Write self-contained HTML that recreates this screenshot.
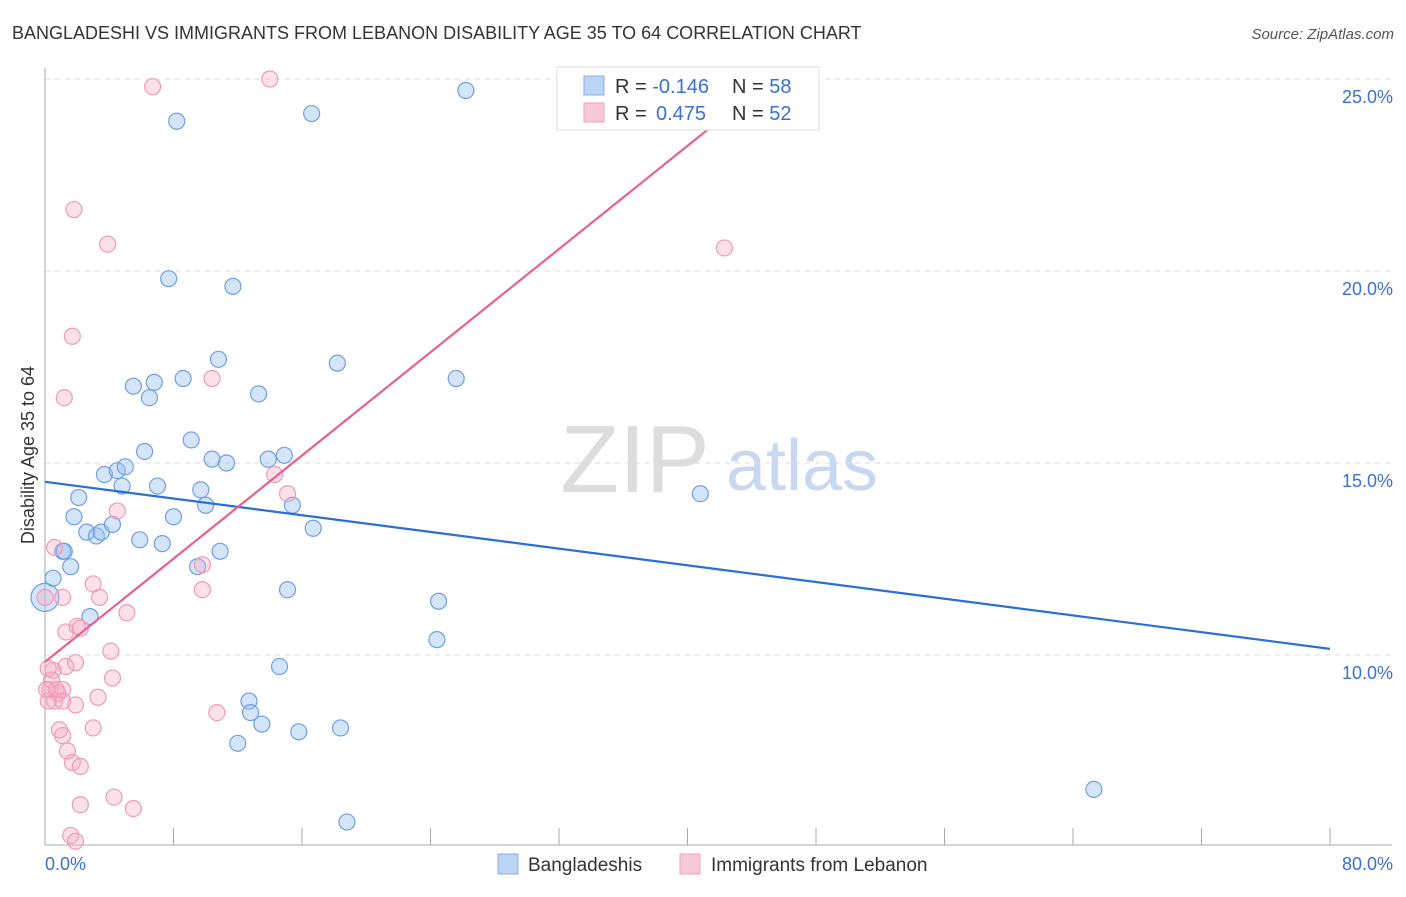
<!DOCTYPE html>
<html><head><meta charset="utf-8"><style>
body{margin:0;background:#fff;font-family:"Liberation Sans",sans-serif;}
svg text{font-family:"Liberation Sans",sans-serif;}
</style></head><body>
<svg id="chart" width="1406" height="892" xmlns="http://www.w3.org/2000/svg">
<text x="12" y="39" font-size="18" fill="#333">BANGLADESHI VS IMMIGRANTS FROM LEBANON DISABILITY AGE 35 TO 64 CORRELATION CHART</text>
<text x="1394" y="39" font-size="15" fill="#555" font-style="italic" text-anchor="end">Source: ZipAtlas.com</text>
<g>
<text x="635" y="492" font-size="96" fill="#ddd" font-family="Liberation Serif" text-anchor="middle">ZIP</text>
<text x="802" y="490" font-size="72" fill="#c8d8f0" text-anchor="middle">atlas</text>
</g>
<g id="grid"></g><g id="axes"></g><g id="pts"></g><g id="lines"></g>
<g>
<rect x="557" y="67" width="262" height="63" fill="#fff" stroke="#ddd"/>
<rect x="584" y="76" width="20" height="19" fill="#bcd4f4" stroke="#88aee6"/>
<rect x="584" y="103" width="20" height="19" fill="#f9c8d6" stroke="#f0a0bc"/>
<text x="615" y="93" font-size="20" fill="#333">R = <tspan fill="#3a70d0">-0.146</tspan></text>
<text x="732" y="93" font-size="20" fill="#333">N = <tspan fill="#3a70d0">58</tspan></text>
<text x="615" y="120" font-size="20" fill="#333">R = <tspan fill="#3a70d0" x="656">0.475</tspan></text>
<text x="732" y="120" font-size="20" fill="#333">N = <tspan fill="#3a70d0">52</tspan></text>
</g>
<g>
<rect x="498" y="854" width="20" height="20" fill="#bcd4f4" stroke="#88aee6"/>
<text x="528" y="871" font-size="19" fill="#333">Bangladeshis</text>
<rect x="680" y="854" width="20" height="20" fill="#f9c8d6" stroke="#f0a0bc"/>
<text x="711" y="871" font-size="19" fill="#333">Immigrants from Lebanon</text>
</g>
<text transform="translate(34,455) rotate(-90)" font-size="18" fill="#333" text-anchor="middle">Disability Age 35 to 64</text>
</svg>
<script>
const yTicks=[10,15,20,25];
const yTickLabels=["10.0%","15.0%","20.0%","25.0%"];
const xEnds=["0.0%","80.0%"];
const blueX=[0,0.5,1.1,1.2,1.6,2.1,1.8,2.6,3.2,3.5,4.2,2.8,3.7,4.5,5.0,4.8,5.5,6.5,6.8,6.2,7.0,5.9,7.3,8.0,8.2,7.7,8.6,9.1,9.7,10.0,10.4,11.3,10.8,11.7,10.9,9.5,13.3,13.9,14.9,15.4,16.7,15.1,16.6,18.2,14.6,12.7,12.8,13.5,15.8,12.0,18.4,18.8,24.5,24.4,25.6,26.2,40.8,65.3];
const blueY=[11.5,12.0,12.7,12.7,12.3,14.1,13.6,13.2,13.1,13.2,13.4,11.0,14.7,14.8,14.9,14.4,17.0,16.7,17.1,15.3,14.4,13.0,12.9,13.6,23.9,19.8,17.2,15.6,14.3,13.9,15.1,15.0,17.7,19.6,12.7,12.3,16.8,15.1,15.2,13.9,13.3,11.7,24.1,17.6,9.7,8.8,8.5,8.2,8.0,7.7,8.1,5.65,11.4,10.4,17.2,24.7,14.2,6.5];
const pinkX=[0,0.6,1.1,1.2,1.7,1.8,3.9,6.7,14.0,42.3,10.4,15.1,14.3,4.5,3.0,3.4,5.1,1.3,2.0,2.2,4.1,1.9,1.3,0.5,0.3,0.8,1.1,0.6,1.9,3.3,4.2,3.0,0.9,1.1,1.4,1.7,2.2,2.2,4.3,5.5,1.6,1.9,9.8,9.8,10.7,0.4,0.2,0.7,0.2,1.1,0.1];
const pinkY=[11.5,12.8,11.5,16.7,18.3,21.6,20.7,24.8,25.0,20.6,17.2,14.2,14.7,13.75,11.85,11.5,11.1,10.6,10.75,10.7,10.1,9.8,9.7,9.6,9.1,9.0,9.1,8.8,8.7,8.9,9.4,8.1,8.05,7.9,7.5,7.2,7.1,6.1,6.3,6.0,5.3,5.15,12.35,11.7,8.5,9.35,8.8,9.1,9.65,8.8,9.1];
const blueLine=[14.51,10.16];
const pinkIntercept=9.82, pinkSlope=0.336;
const sx=v=>45+v/80*1285, sy=v=>79+(25-v)*38.4;
const NS="http://www.w3.org/2000/svg";
function mk(t,a,p){const e=document.createElementNS(NS,t);for(const k in a)e.setAttribute(k,a[k]);document.getElementById(p).appendChild(e);return e;}
yTicks.forEach((t,i)=>{
 const g=mk('line',{x1:45,x2:1392,y1:sy(t),y2:sy(t),stroke:'#ddd','stroke-dasharray':'5,5'},'grid');
 
 
 const l=mk('text',{x:1393,y:sy(t)+24,'font-size':18,fill:'#3a70d0','text-anchor':'end'},'axes');
 l.textContent=yTickLabels[i];
 
 
});
const ax=mk('line',{x1:45,x2:45,y1:68,y2:845,stroke:'#aaa'},'axes');


const bx=mk('line',{x1:45,x2:1392,y1:845,y2:845,stroke:'#aaa'},'axes');


for(let i=0;i<=10;i++){const t=mk('line',{x1:sx(i*8),x2:sx(i*8),y1:828,y2:845,stroke:'#aaa'},'axes');
 
 }
[[0,'start',45],[80,'end',1393]].forEach((d,i)=>{const t=mk('text',{x:d[2],y:870,'font-size':18,fill:'#3a70d0','text-anchor':d[1]},'axes');t.textContent=xEnds[i];
 
 });
blueX.forEach((x,i)=>{const c=mk('circle',{cx:sx(x),cy:sy(blueY[i]),r:i==0?14:8,fill:'rgba(150,190,240,0.4)',stroke:'#6fa0e0','stroke-width':1.2},'pts');
 
 });
pinkX.forEach((x,i)=>{const c=mk('circle',{cx:sx(x),cy:sy(pinkY[i]),r:8,fill:'rgba(245,170,195,0.35)',stroke:'#ee9ab8','stroke-width':1.2},'pts');
 
 });
const bl=mk('line',{x1:sx(0),y1:sy(blueLine[0]),x2:sx(80),y2:sy(blueLine[1]),stroke:'#2a6ed8','stroke-width':2.2},'lines');


const xe=(25-pinkIntercept)/pinkSlope;
const pl=mk('line',{x1:sx(0),y1:sy(pinkIntercept),x2:sx(xe),y2:sy(25),stroke:'#e8608c','stroke-width':2.2},'lines');


</script>
</body></html>
